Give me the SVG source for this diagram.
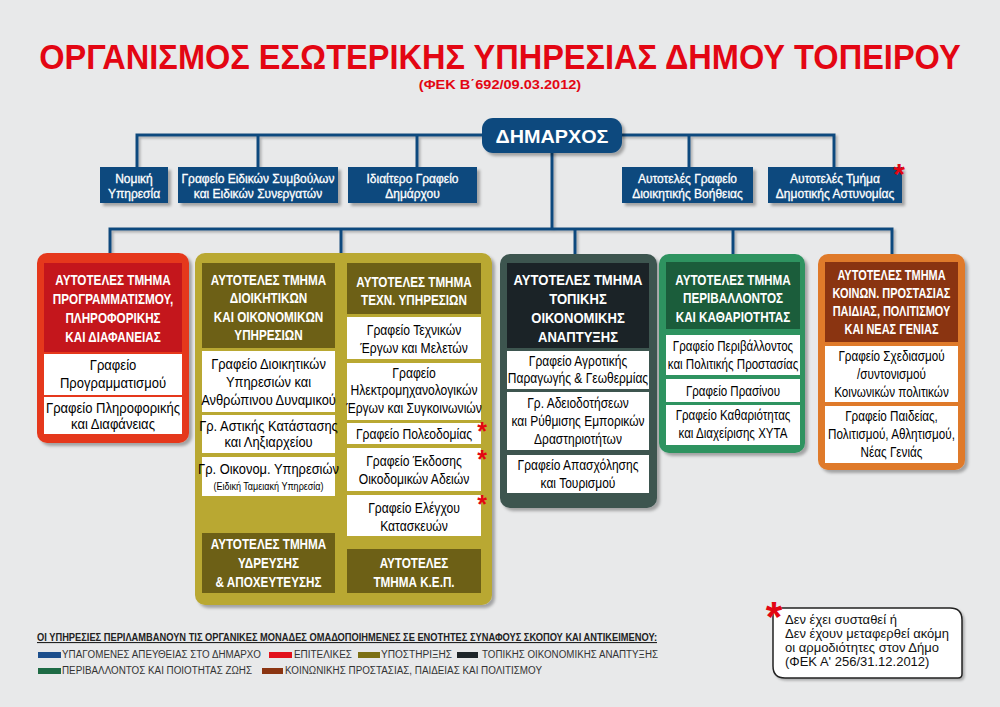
<svg xmlns="http://www.w3.org/2000/svg" width="1000" height="707" viewBox="0 0 1000 707">
<defs>
<filter id="sh" x="-10%" y="-10%" width="130%" height="130%"><feDropShadow dx="3" dy="3" stdDeviation="1.5" flood-color="#000" flood-opacity="0.3"/></filter>
<filter id="shl" x="-5%" y="-5%" width="110%" height="120%"><feDropShadow dx="2" dy="2" stdDeviation="1" flood-color="#000" flood-opacity="0.25"/></filter>
</defs>
<style>
text{font-family:"Liberation Sans",Arial,sans-serif}
.title{font-size:35px;font-weight:bold;fill:#e30613;text-anchor:middle}
.sub{font-size:13px;font-weight:bold;fill:#e30613;text-anchor:middle}
.blue{fill:#0e4a7e}
.top{font-size:12px;fill:#fff;stroke:#fff;stroke-width:0.3;text-anchor:middle}
.mayor{font-size:18px;font-weight:bold;fill:#fff;text-anchor:middle}
.hd{font-size:15px;font-weight:bold;fill:#fff;text-anchor:middle}
.bd{font-size:15px;fill:#000;text-anchor:middle}
.sm{font-size:10.5px;fill:#000;text-anchor:middle}
.wb{fill:#fff}
.conn{fill:none;stroke:#0e4a7e;stroke-width:3}
.ast{font-size:30px;font-weight:bold;fill:#e30613;text-anchor:middle}
.ast2{font-size:25px;font-weight:bold;fill:#e30613;text-anchor:middle}
.lg{font-size:10px;fill:#333}
.lgh{font-size:11px;font-weight:bold;fill:#222;text-decoration:underline}
.fn{font-size:13px;fill:#111}
</style>
<rect x="0" y="0" width="1000" height="707" fill="#e8e9ea"/>

<g id="title">
<text class="title" transform="translate(500 69) scale(0.93 1)" x="0" y="0">ΟΡΓΑΝΙΣΜΟΣ ΕΣΩΤΕΡΙΚΗΣ ΥΠΗΡΕΣΙΑΣ ΔΗΜΟΥ ΤΟΠΕΙΡΟΥ</text>
<text class="sub" transform="translate(500 88.5) scale(1.12 1)" x="0" y="0">(ΦΕΚ Β΄692/09.03.2012)</text>
</g>

<g id="connectors" filter="url(#shl)">
<path class="conn" d="M137,167 V135 H834 V167"/>
<path class="conn" d="M258,135 V167 M417,135 V167 M689,135 V167"/>
<path class="conn" d="M552,150 V229"/>
<path class="conn" d="M110,254 V229 H892 V255"/>
<path class="conn" d="M341,229 V254 M575,229 V256 M733,229 V255"/>
</g>

<g id="mayor">
<rect x="482" y="118" width="140" height="35" rx="11" class="blue" filter="url(#sh)"/>
<text class="mayor" x="552" y="143" textLength="113" lengthAdjust="spacingAndGlyphs">ΔΗΜΑΡΧΟΣ</text>
</g>

<g id="n-nomiki">
<rect x="100" y="167" width="68" height="36" class="blue" filter="url(#sh)"/>
<text class="top" x="134" y="183">Νομική</text>
<text class="top" x="134" y="198">Υπηρεσία</text>
</g>
<g id="n-symvouloi">
<rect x="178" y="167" width="160" height="36" class="blue" filter="url(#sh)"/>
<text class="top" x="258" y="183">Γραφείο Ειδικών Συμβούλων</text>
<text class="top" x="258" y="198">και Ειδικών Συνεργατών</text>
</g>
<g id="n-idiaitero">
<rect x="348" y="167" width="129" height="36" class="blue" filter="url(#sh)"/>
<text class="top" x="412.5" y="183">Ιδιαίτερο Γραφείο</text>
<text class="top" x="412.5" y="198">Δημάρχου</text>
</g>
<g id="n-voitheia">
<rect x="622" y="167" width="131" height="36" class="blue" filter="url(#sh)"/>
<text class="top" x="687.5" y="183">Αυτοτελές Γραφείο</text>
<text class="top" x="687.5" y="198">Διοικητικής Βοήθειας</text>
</g>
<g id="n-astynomia">
<rect x="768" y="167" width="134" height="36" class="blue" filter="url(#sh)"/>
<text class="top" x="835" y="183">Αυτοτελές Τμήμα</text>
<text class="top" x="835" y="198">Δημοτικής Αστυνομίας</text>
<text class="ast" x="899" y="184">*</text>
</g>

<g id="n-programmatismou">
<rect x="37" y="253" width="152" height="190" rx="10" fill="#e5391e" filter="url(#sh)"/>
<rect x="44" y="263" width="138" height="89" fill="#c4161c"/>
<rect x="44" y="354" width="138" height="41" class="wb"/>
<rect x="44" y="397" width="138" height="37" class="wb"/>
<g transform="translate(113 0) scale(0.78 1)">
<text class="hd" x="0" y="285">ΑΥΤΟΤΕΛΕΣ ΤΜΗΜΑ</text>
<text class="hd" x="0" y="304">ΠΡΟΓΡΑΜΜΑΤΙΣΜΟΥ,</text>
<text class="hd" x="0" y="323">ΠΛΗΡΟΦΟΡΙΚΗΣ</text>
<text class="hd" x="0" y="342">ΚΑΙ ΔΙΑΦΑΝΕΙΑΣ</text>
</g>
<g transform="translate(113 0) scale(0.87 1)">
<text class="bd" x="0" y="370">Γραφείο</text>
<text class="bd" x="0" y="388">Προγραμματισμού</text>
<text class="bd" x="0" y="413">Γραφείο Πληροφορικής</text>
<text class="bd" x="0" y="429">και Διαφάνειας</text>
</g>
</g>

<g id="n-ypostirixis">
<rect x="195" y="253" width="297" height="352" rx="10" fill="#b9a832" filter="url(#sh)"/>
<g id="n-dioikitikon">
<rect x="202" y="263" width="133" height="85" fill="#6d6016"/>
<rect x="202" y="351" width="133" height="61" class="wb"/>
<rect x="202" y="415" width="133" height="38" class="wb"/>
<rect x="202" y="457" width="133" height="39" class="wb"/>
<g transform="translate(268.5 0) scale(0.78 1)">
<text class="hd" x="0" y="285">ΑΥΤΟΤΕΛΕΣ ΤΜΗΜΑ</text>
<text class="hd" x="0" y="303">ΔΙΟΙΚΗΤΙΚΩΝ</text>
<text class="hd" x="0" y="322">ΚΑΙ ΟΙΚΟΝΟΜΙΚΩΝ</text>
<text class="hd" x="0" y="340">ΥΠΗΡΕΣΙΩΝ</text>
</g>
<g transform="translate(268.5 0) scale(0.86 1)">
<text class="bd" x="0" y="369">Γραφείο Διοικητικών</text>
<text class="bd" x="0" y="387">Υπηρεσιών και</text>
<text class="bd" x="0" y="405">Ανθρώπινου Δυναμικού</text>
<text class="bd" x="0" y="431">Γρ. Αστικής Κατάστασης</text>
<text class="bd" x="0" y="447">και Ληξιαρχείου</text>
<text class="bd" x="0" y="474">Γρ. Οικονομ. Υπηρεσιών</text>
<text class="sm" x="0" y="490">(Ειδική Ταμειακή Υπηρεσία)</text>
</g>
</g>
<g id="n-ydreysis">
<rect x="202" y="533" width="133" height="60" fill="#6d6016"/>
<g transform="translate(268.5 0) scale(0.78 1)">
<text class="hd" x="0" y="549">ΑΥΤΟΤΕΛΕΣ ΤΜΗΜΑ</text>
<text class="hd" x="0" y="568">ΥΔΡΕΥΣΗΣ</text>
<text class="hd" x="0" y="587">&amp; ΑΠΟΧΕΥΤΕΥΣΗΣ</text>
</g>
</g>
<g id="n-techn">
<rect x="347" y="263" width="134" height="51" fill="#6d6016"/>
<rect x="347" y="317" width="134" height="42" class="wb"/>
<rect x="347" y="363" width="134" height="57" class="wb"/>
<rect x="347" y="423" width="134" height="21" class="wb"/>
<rect x="347" y="448" width="134" height="43" class="wb"/>
<rect x="347" y="495" width="134" height="41" class="wb"/>
<g transform="translate(414 0) scale(0.78 1)">
<text class="hd" x="0" y="287">ΑΥΤΟΤΕΛΕΣ ΤΜΗΜΑ</text>
<text class="hd" x="0" y="305">ΤΕΧΝ. ΥΠΗΡΕΣΙΩΝ</text>
</g>
<g transform="translate(414 0) scale(0.81 1)">
<text class="bd" x="0" y="335">Γραφείο Τεχνικών</text>
<text class="bd" x="0" y="353">Έργων και Μελετών</text>
<text class="bd" x="0" y="378">Γραφείο</text>
<text class="bd" x="0" y="395">Ηλεκτρομηχανολογικών</text>
<text class="bd" x="0" y="413">Έργων και Συγκοινωνιών</text>
<text class="bd" x="0" y="439">Γραφείο Πολεοδομίας</text>
<text class="bd" x="0" y="466">Γραφείο Έκδοσης</text>
<text class="bd" x="0" y="484">Οικοδομικών Αδειών</text>
<text class="bd" x="0" y="513">Γραφείο Ελέγχου</text>
<text class="bd" x="0" y="531">Κατασκευών</text>
</g>
<text class="ast2" x="482" y="440">*</text>
<text class="ast2" x="482" y="468">*</text>
<text class="ast2" x="482" y="513">*</text>
</g>
<g id="n-kep">
<rect x="347" y="549" width="134" height="44" fill="#6d6016"/>
<g transform="translate(414 0) scale(0.78 1)">
<text class="hd" x="0" y="568">ΑΥΤΟΤΕΛΕΣ</text>
<text class="hd" x="0" y="587">ΤΜΗΜΑ Κ.Ε.Π.</text>
</g>
</g>
</g>

<g id="n-anaptyxis">
<rect x="500" y="254" width="157" height="254" rx="10" fill="#3e5450" filter="url(#sh)"/>
<rect x="507" y="263" width="142" height="85" fill="#1b2327"/>
<rect x="507" y="351" width="142" height="38" class="wb"/>
<rect x="507" y="392" width="142" height="58" class="wb"/>
<rect x="507" y="455" width="142" height="38" class="wb"/>
<g transform="translate(578 0) scale(0.87 1)">
<text class="hd" x="0" y="285">ΑΥΤΟΤΕΛΕΣ ΤΜΗΜΑ</text>
<text class="hd" x="0" y="304">ΤΟΠΙΚΗΣ</text>
<text class="hd" x="0" y="323">ΟΙΚΟΝΟΜΙΚΗΣ</text>
<text class="hd" x="0" y="342">ΑΝΑΠΤΥΞΗΣ</text>
</g>
<g transform="translate(578 0) scale(0.8 1)">
<text class="bd" x="0" y="366">Γραφείο Αγροτικής</text>
<text class="bd" x="0" y="383">Παραγωγής &amp; Γεωθερμίας</text>
<text class="bd" x="0" y="408">Γρ. Αδειοδοτήσεων</text>
<text class="bd" x="0" y="426">και Ρύθμισης Εμπορικών</text>
<text class="bd" x="0" y="444">Δραστηριοτήτων</text>
<text class="bd" x="0" y="470">Γραφείο Απασχόλησης</text>
<text class="bd" x="0" y="488">και Τουρισμού</text>
</g>
</g>

<g id="n-perivallontos">
<rect x="659" y="254" width="146" height="199" rx="10" fill="#2f9361" filter="url(#sh)"/>
<rect x="666" y="262" width="134" height="67" fill="#1b5d3b"/>
<rect x="666" y="335" width="134" height="40" class="wb"/>
<rect x="666" y="379" width="134" height="23" class="wb"/>
<rect x="666" y="405" width="134" height="40" class="wb"/>
<g transform="translate(733 0) scale(0.78 1)">
<text class="hd" x="0" y="285">ΑΥΤΟΤΕΛΕΣ ΤΜΗΜΑ</text>
<text class="hd" x="0" y="303">ΠΕΡΙΒΑΛΛΟΝΤΟΣ</text>
<text class="hd" x="0" y="322">ΚΑΙ ΚΑΘΑΡΙΟΤΗΤΑΣ</text>
</g>
<g transform="translate(733 0) scale(0.77 1)">
<text class="bd" x="0" y="351">Γραφείο Περιβάλλοντος</text>
<text class="bd" x="0" y="369">και Πολιτικής Προστασίας</text>
<text class="bd" x="0" y="396">Γραφείο Πρασίνου</text>
<text class="bd" x="0" y="420">Γραφείο Καθαριότητας</text>
<text class="bd" x="0" y="438">και Διαχείρισης ΧΥΤΑ</text>
</g>
</g>

<g id="n-koinonikis">
<rect x="818" y="254" width="147" height="216" rx="10" fill="#df7a2b" filter="url(#sh)"/>
<rect x="825" y="262" width="133" height="80" fill="#8a3411"/>
<rect x="825" y="346" width="133" height="56" class="wb"/>
<rect x="825" y="406" width="133" height="57" class="wb"/>
<g transform="translate(891.5 0) scale(0.73 1)">
<text class="hd" x="0" y="280">ΑΥΤΟΤΕΛΕΣ ΤΜΗΜΑ</text>
<text class="hd" x="0" y="298">ΚΟΙΝΩΝ. ΠΡΟΣΤΑΣΙΑΣ</text>
<text class="hd" x="0" y="316">ΠΑΙΔΙΑΣ, ΠΟΛΙΤΙΣΜΟΥ</text>
<text class="hd" x="0" y="334">ΚΑΙ ΝΕΑΣ ΓΕΝΙΑΣ</text>
</g>
<g transform="translate(891.5 0) scale(0.78 1)">
<text class="bd" x="0" y="361">Γραφείο Σχεδιασμού</text>
<text class="bd" x="0" y="379">/συντονισμού</text>
<text class="bd" x="0" y="397">Κοινωνικών πολιτικών</text>
<text class="bd" x="0" y="421">Γραφείο Παιδείας,</text>
<text class="bd" x="0" y="439">Πολιτισμού, Αθλητισμού,</text>
<text class="bd" x="0" y="457">Νέας Γενιάς</text>
</g>
</g>

<g id="legend">
<text class="lgh" x="37" y="641" textLength="620" lengthAdjust="spacingAndGlyphs">ΟΙ ΥΠΗΡΕΣΙΕΣ ΠΕΡΙΛΑΜΒΑΝΟΥΝ ΤΙΣ ΟΡΓΑΝΙΚΕΣ ΜΟΝΑΔΕΣ ΟΜΑΔΟΠΟΙΗΜΕΝΕΣ ΣΕ ΕΝΟΤΗΤΕΣ ΣΥΝΑΦΟΥΣ ΣΚΟΠΟΥ ΚΑΙ ΑΝΤΙΚΕΙΜΕΝΟΥ:</text>
<rect x="38" y="652" width="23" height="6" fill="#1d4f8c"/>
<text class="lg" x="62" y="658" textLength="199" lengthAdjust="spacingAndGlyphs">ΥΠΑΓΟΜΕΝΕΣ ΑΠΕΥΘΕΙΑΣ ΣΤΟ ΔΗΜΑΡΧΟ</text>
<rect x="269" y="652" width="23" height="6" fill="#e2121c"/>
<text class="lg" x="294" y="658" textLength="58" lengthAdjust="spacingAndGlyphs">ΕΠΙΤΕΛΙΚΕΣ</text>
<rect x="358" y="652" width="22" height="6" fill="#7c7014"/>
<text class="lg" x="381" y="658" textLength="71" lengthAdjust="spacingAndGlyphs">ΥΠΟΣΤΗΡΙΞΗΣ</text>
<rect x="457" y="652" width="21" height="6" fill="#1e2529"/>
<text class="lg" x="482" y="658" textLength="176" lengthAdjust="spacingAndGlyphs">ΤΟΠΙΚΗΣ ΟΙΚΟΝΟΜΙΚΗΣ ΑΝΑΠΤΥΞΗΣ</text>
<rect x="38" y="668" width="23" height="6" fill="#1e6b45"/>
<text class="lg" x="62" y="674" textLength="190" lengthAdjust="spacingAndGlyphs">ΠΕΡΙΒΑΛΛΟΝΤΟΣ ΚΑΙ ΠΟΙΟΤΗΤΑΣ ΖΩΗΣ</text>
<rect x="262" y="668" width="21" height="6" fill="#8b3512"/>
<text class="lg" x="285" y="674" textLength="257" lengthAdjust="spacingAndGlyphs">ΚΟΙΝΩΝΙΚΗΣ ΠΡΟΣΤΑΣΙΑΣ, ΠΑΙΔΕΙΑΣ ΚΑΙ ΠΟΛΙΤΙΣΜΟΥ</text>
</g>

<g id="footnote">
<path d="M777,608 H950 Q962,608 962,620 V674 Q962,678 958,678 H785 Q773,678 773,666 V612 Q773,608 777,608 Z" fill="#fff" stroke="#222" stroke-width="1.5" filter="url(#shl)"/>
<text class="ast" x="774" y="631" style="font-size:42px">*</text>
<text class="fn" x="785" y="624">Δεν έχει συσταθεί ή</text>
<text class="fn" x="785" y="638">Δεν έχουν μεταφερθεί ακόμη</text>
<text class="fn" x="785" y="652">οι αρμοδιότητες στον Δήμο</text>
<text class="fn" x="785" y="666">(ΦΕΚ Α' 256/31.12.2012)</text>
</g>
</svg>
